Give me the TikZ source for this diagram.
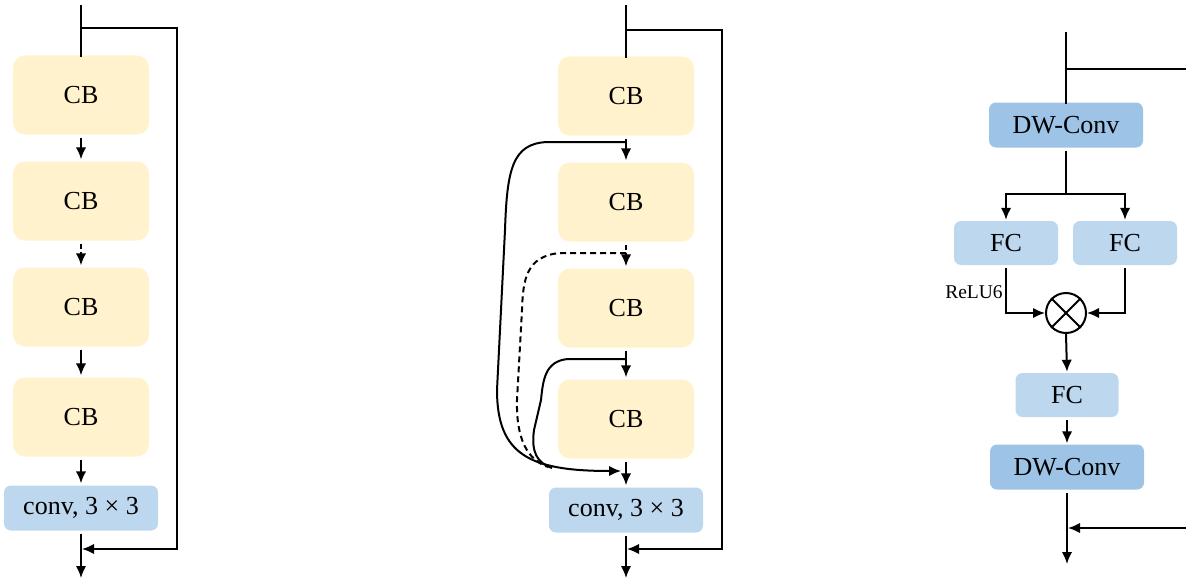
\documentclass[tikz,border=0pt]{standalone}
\usepackage{fontspec}
\setmainfont{Liberation Serif}
\usetikzlibrary{arrows.meta}
\definecolor{cbfill}{HTML}{FFF2CC}
\definecolor{fcfill}{HTML}{BDD7EE}
\definecolor{dwfill}{HTML}{9DC3E6}
\begin{document}
\begin{tikzpicture}[x=1pt,y=-1pt,
  txt/.style={font=\fontsize{26}{30}\selectfont},
  cbbox/.style={txt,fill=cbfill,rounded corners=12pt,minimum width=136pt,minimum height=79pt,inner sep=0pt},
  convbox/.style={txt,fill=fcfill,rounded corners=7pt,minimum width=154pt,minimum height=45pt,inner sep=0pt},
  fcbox/.style={txt,fill=fcfill,rounded corners=7pt,minimum width=104pt,minimum height=44pt,inner sep=0pt},
  dwbox/.style={txt,fill=dwfill,rounded corners=7pt,minimum width=154pt,minimum height=45pt,inner sep=0pt},
  wire/.style={line width=2pt,draw=black},
  arr/.style={wire,-{Latex[length=12pt,width=10.5pt]}},
  mulnode/.style={circle,draw,line width=2pt,minimum size=40pt,inner sep=0pt}
]
\path[use as bounding box] (0,0) rectangle (1186,578);

% ---------- left: plain stack of CB blocks ----------
\node[cbbox] (cbL1) at (81,95) {CB};
\node[cbbox] (cbL2) at (81,201) {CB};
\node[cbbox] (cbL3) at (81,307) {CB};
\node[cbbox] (cbL4) at (81,417) {CB};
\node[convbox] (convL) at (81,508) {conv, 3 × 3};
\coordinate (inL) at (81,5);
\coordinate (brL) at (81,28);
\coordinate (mgL) at (82,549);
\coordinate (outL) at (81,578);
\draw[wire] (inL) -- ([yshift=-2pt]cbL1.north);
\draw[arr] (brL) -- (177,28) -- (177,549) -- (mgL);
\draw[arr] ([yshift=-3pt]cbL1.south) -- ([yshift=2pt]cbL2.north);
\draw[arr,dash pattern=on 5pt off 3pt] ([yshift=-3pt]cbL2.south) -- ([yshift=2pt]cbL3.north);
\draw[arr] ([yshift=-3pt]cbL3.south) -- ([yshift=2pt]cbL4.north);
\draw[arr] ([yshift=-3pt]cbL4.south) -- ([yshift=2pt]convL.north);
\draw[arr] ([yshift=-3pt]convL.south) -- (outL);

% ---------- middle: CB stack with dense skip links ----------
\node[cbbox] (cbM1) at (626,96) {CB};
\node[cbbox] (cbM2) at (626,202) {CB};
\node[cbbox] (cbM3) at (626,308) {CB};
\node[cbbox] (cbM4) at (626,419) {CB};
\node[convbox] (convM) at (626,510) {conv, 3 × 3};
\coordinate (inM) at (626,5);
\coordinate (brM) at (626,30);
\coordinate (mgM) at (627,549);
\coordinate (outM) at (626,578);
\coordinate (s1) at (626,142);
\coordinate (s2) at (626,253);
\coordinate (s3) at (626,359);
\coordinate (join) at (621,471);
\draw[wire] (inM) -- ([yshift=-2pt]cbM1.north);
\draw[arr] (brM) -- (722,30) -- (722,549) -- (mgM);
\draw[arr] ([yshift=-3pt]cbM1.south) -- ([yshift=2pt]cbM2.north);
\draw[arr,dash pattern=on 5pt off 3pt] ([yshift=-3pt]cbM2.south) -- ([yshift=2pt]cbM3.north);
\draw[arr] ([yshift=-3pt]cbM3.south) -- ([yshift=2pt]cbM4.north);
\draw[arr] ([yshift=-3pt]cbM4.south) -- ([yshift=2pt]convM.north);
\draw[arr] ([yshift=-3pt]convM.south) -- (outM);
% skip links gathered in front of the conv block
\draw[arr] (s1) -- (548,142) .. controls (512,143) and (507,170) .. (505,230)
  -- (497,390) .. controls (497,455) and (530,471) .. (join);
\draw[wire,dash pattern=on 6pt off 4pt] (s2) -- (560,253) .. controls (526,256) and (523,280) .. (522,310)
  -- (517,400) .. controls (516,440) and (528,460) .. (548,467);
\draw[wire] (s3) -- (568,359) .. controls (545,361) and (543,380) .. (541,400)
  -- (534,430) .. controls (531,452) and (537,463) .. (552,468);

% ---------- right: gated feed-forward block ----------
\node[dwbox] (dw1) at (1066,125) {DW-Conv};
\node[fcbox] (fcA) at (1006,243) {FC};
\node[fcbox] (fcB) at (1125,243) {FC};
\node[mulnode] (mul) at (1066,313) {};
\node[fcbox,minimum width=103pt] (fcC) at (1067,395) {FC};
\node[dwbox] (dw2) at (1067,467) {DW-Conv};
\node[font=\fontsize{19.5}{23}\selectfont] (relu) at (974,292) {ReLU6};
\draw[line width=2pt] (mul.north west) -- (mul.south east);
\draw[line width=2pt] (mul.north east) -- (mul.south west);
\coordinate (inR) at (1066,32);
\coordinate (brR) at (1066,69);
\coordinate (split) at (1066,194);
\coordinate (mgR) at (1068,528);
\coordinate (outR) at (1067,564);
\draw[wire] (inR) -- ([yshift=-2pt]dw1.north);
\draw[arr] (brR) -- (1186.6,69) -- (1186.6,528) -- (mgR);
\draw[wire] ([yshift=-3pt]dw1.south) -- (split);
\draw[arr] (split) -- (fcA.center |- split) -- ([yshift=1pt]fcA.north);
\draw[arr] (split) -- (fcB.center |- split) -- ([yshift=1pt]fcB.north);
\draw[arr] ([yshift=-3pt]fcA.south) -- (fcA.center |- mul) -- (mul.west);
\draw[arr] ([yshift=-3pt]fcB.south) -- (fcB.center |- mul) -- (mul.east);
\draw[arr] (mul.south) -- ([yshift=1pt]fcC.north);
\draw[arr] ([yshift=-3pt]fcC.south) -- ([yshift=1pt]dw2.north);
\draw[arr] ([yshift=-3pt]dw2.south) -- (outR);
\end{tikzpicture}
\end{document}
